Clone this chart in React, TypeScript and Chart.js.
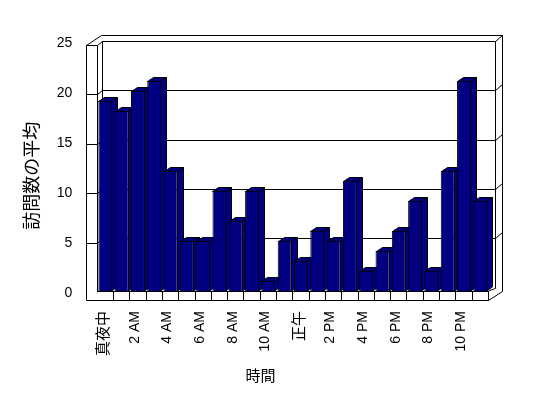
import React, { useEffect, useRef } from 'react';
import { Chart, registerables } from 'chart.js';

Chart.register(...registerables);

// ---- data ----
const hours = [
  '真夜中', '1 AM', '2 AM', '3 AM', '4 AM', '5 AM', '6 AM', '7 AM', '8 AM', '9 AM', '10 AM', '11 AM',
  '正午', '1 PM', '2 PM', '3 PM', '4 PM', '5 PM', '6 PM', '7 PM', '8 PM', '9 PM', '10 PM', '11 PM',
];
const visits = [19, 18, 20, 21, 12, 5, 5, 10, 7, 10, 1, 5, 3, 6, 5, 11, 2, 4, 6, 9, 2, 12, 21, 9];
const yTicks = [0, 5, 10, 15, 20, 25];
const xTitle = '時間';
const yTitle = '訪問数の平均';

// ---- style ----
const NAVY = '#000080';
const FAMILY = 'Arial, "Liberation Sans", "Noto Sans CJK JP", sans-serif';
const CJK_FAMILY = '"Noto Sans CJK JP", sans-serif';
const BAR_DX = 6;
const BAR_DY = -4;

const isCJK = (s: string) => /[\u3000-\u9fff]/.test(s);
const c = (v: number) => Math.floor(v) + 0.5;

const box3d = {
  id: 'box3d',
  beforeDatasetsDraw(chart: any) {
    const { ctx, chartArea: ca, scales } = chart;
    const y = scales.y;
    const L = ca.left;
    const R = ca.right;
    const B = ca.bottom;
    const top = yTicks[yTicks.length - 1];
    const py = (v: number) => y.getPixelForValue(v);
    const fy = (v: number) => py(v) + 1.5 + (3 * v) / top;
    const by = (v: number) => py(v) - 3 + (3.5 * v) / top;

    ctx.save();
    ctx.strokeStyle = '#000';
    ctx.lineWidth = 1;
    const line = (pts: number[][]) => {
      ctx.beginPath();
      ctx.moveTo(pts[0][0], pts[0][1]);
      for (let i = 1; i < pts.length; i++) ctx.lineTo(pts[i][0], pts[i][1]);
      ctx.stroke();
    };

    const xo = c(L - 10.7);
    const xi = c(L + 0.3);
    const xb = c(L + 5.3);
    const xbr = c(R + 7);
    const xor = c(R + 14);
    const yo = c(by(top)) - 6;
    const yfb = c(B + 9.5);
    const rf = c(R);

    // outer frame
    line([[xo, c(fy(top))], [xo, yfb], [rf, yfb], [xor, c(B)], [xor, yo]]);
    line([[xo, c(fy(top))], [xo + 15, yo], [xor, yo]]);
    // left wall inner edge, back corners
    line([[xi, c(fy(top))], [xi, B]]);
    line([[xb, c(by(top))], [xb, c(by(0))]]);
    line([[xbr, c(by(top))], [xbr, c(by(0))]]);
    // gridlines on walls
    yTicks.forEach((v) => {
      if (v === 0) return;
      line([[xo, c(fy(v))], [xi, c(fy(v))], [xb, c(by(v))], [xbr, c(by(v))], [xor, c(by(v)) - 6]]);
    });
    // floor right end
    line([[rf, B], [xbr, c(by(0))]]);
    line([[rf, B], [rf, yfb]]);

    // 3D faces of bars (top + right side), drawn left to right
    const meta = chart.getDatasetMeta(0);
    ctx.fillStyle = NAVY;
    meta.data.forEach((bar: any) => {
      const p = bar.getProps(['x', 'y', 'width', 'base'], true);
      const x0 = Math.round(p.x - p.width / 2) + 0.5;
      const x1 = Math.round(p.x + p.width / 2) - 0.5;
      const yt = Math.round(p.y) + 0.5;
      const yb = p.base;
      // side
      ctx.beginPath();
      ctx.moveTo(x1, yt);
      ctx.lineTo(x1 + BAR_DX, yt + BAR_DY);
      ctx.lineTo(x1 + BAR_DX, yb + BAR_DY);
      ctx.lineTo(x1, yb);
      ctx.closePath();
      ctx.fill();
      ctx.stroke();
      // top
      ctx.beginPath();
      ctx.moveTo(x0, yt);
      ctx.lineTo(x0 + BAR_DX, yt + BAR_DY);
      ctx.lineTo(x1 + BAR_DX, yt + BAR_DY);
      ctx.lineTo(x1, yt);
      ctx.closePath();
      ctx.fill();
      ctx.stroke();
    });
    ctx.restore();
  },
  afterDraw(chart: any) {
    const { ctx } = chart;
    ctx.save();
    ctx.fillStyle = '#000';
    ctx.textAlign = 'center';
    ctx.textBaseline = 'middle';
    ctx.font = '15px ' + CJK_FAMILY;
    ctx.fillText(xTitle, 260.5, 375.5);
    ctx.translate(30.8, 175.7);
    ctx.rotate(-Math.PI / 2);
    ctx.font = '18px ' + CJK_FAMILY;
    ctx.fillText(yTitle, 0, 0);
    ctx.restore();
  },
};

export default function App() {
  const ref = useRef<HTMLCanvasElement>(null);

  useEffect(() => {
    if (!ref.current) return;
    const chart = new Chart(ref.current, {
      type: 'bar',
      data: {
        labels: hours,
        datasets: [
          {
            data: visits,
            backgroundColor: NAVY,
            borderColor: '#000',
            borderWidth: 1,
            borderSkipped: 'start',
            barPercentage: 0.858,
            categoryPercentage: 1,
          },
        ],
      },
      options: {
        responsive: false,
        animation: false,
        devicePixelRatio: 1,
        layout: { padding: { top: 41, right: 59.5, bottom: 0, left: 0 } },
        plugins: { legend: { display: false }, tooltip: { enabled: false } },
        scales: {
          x: {
            type: 'category',
            offset: true,
            grid: {
              display: true,
              offset: true,
              drawOnChartArea: false,
              drawTicks: true,
              tickLength: 9,
              lineWidth: 1,
              color: (ctx: any) => (ctx.index === 0 ? 'rgba(0,0,0,0)' : '#000'),
            },
            border: { display: true, color: '#000' },
            ticks: {
              autoSkip: false,
              minRotation: 90,
              maxRotation: 90,
              padding: 11,
              labelOffset: -3,
              color: '#000',
              font: (ctx: any) => {
                const lab = hours[ctx.index] || '';
                return isCJK(lab)
                  ? { family: CJK_FAMILY, size: 15 }
                  : { family: FAMILY, size: 14 };
              },
              callback: (_v: any, i: number) => (i % 2 === 0 ? hours[i] : ''),
            },
            afterFit: (s: any) => {
              s.height = 107;
            },
          },
          y: {
            min: yTicks[0],
            max: yTicks[yTicks.length - 1],
            grid: { display: false, drawTicks: false },
            border: { display: false },
            ticks: {
              stepSize: 5,
              padding: 25,
              labelOffset: 2,
              color: '#000',
              font: { family: FAMILY, size: 14 },
            },
            afterFit: (s: any) => {
              s.width = 97.2;
            },
          },
        },
      },
      plugins: [box3d],
    } as any);
    return () => chart.destroy();
  }, []);

  return (
    <div style={{ position: 'fixed', left: 0, top: 0, width: 548, height: 398, background: '#fff' }}>
      <canvas ref={ref} width={548} height={398} style={{ display: 'block', width: 548, height: 398 }} />
    </div>
  );
}
